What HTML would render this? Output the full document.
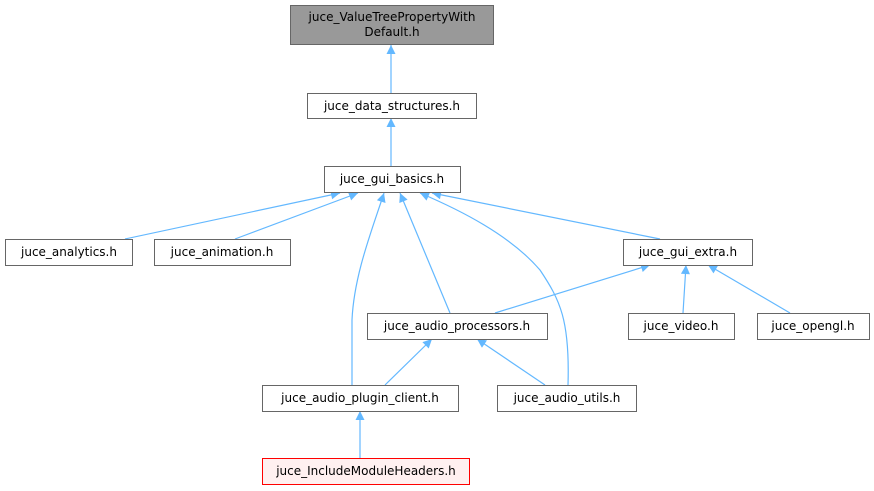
<!DOCTYPE html>
<html><head><meta charset="utf-8"><style>
html,body{margin:0;padding:0;background:#fff;}
svg{display:block;}
text{font-family:"DejaVu Sans","Liberation Sans",sans-serif;font-size:12px;fill:#000;}
</style></head><body>
<svg width="874" height="491" viewBox="0 0 874 491" xmlns="http://www.w3.org/2000/svg">
<defs>
<marker id="a" viewBox="0 0 10 10" refX="10" refY="5" markerWidth="11" markerHeight="9" markerUnits="userSpaceOnUse" orient="auto">
<path d="M0,0 L10,5 L0,10 z" fill="#63b8ff"/>
</marker>
</defs>
<g stroke="#63b8ff" stroke-width="1.2" fill="none" marker-end="url(#a)">
<path d="M391,93 L391,45"/>
<path d="M391,166 L391,118"/>
<path d="M125,239 L340,193"/>
<path d="M235,239 L358,193"/>
<path d="M660,239 L432,193"/>
<path d="M450,313 L400,193"/>
<path d="M352,385 L352,320 C354,275 372,230 384,193"/>
<path d="M568,385 C570,320 560,300 540,270 C510,235 460,210 420,193"/>
<path d="M495,313 L650,265"/>
<path d="M683,313 L686,265"/>
<path d="M790,313 L708,265"/>
<path d="M385,385 L432,339"/>
<path d="M545,385 L477,339"/>
<path d="M360,458 L360,411"/>
</g>
<g stroke="#666" stroke-width="1">
<rect x="290.5" y="5.5" width="203" height="39" fill="#999"/>
<rect x="307.5" y="93.5" width="169" height="25" fill="#fff"/>
<rect x="324.5" y="166.5" width="136" height="26" fill="#fff"/>
<rect x="5.5" y="239.5" width="127" height="26" fill="#fff"/>
<rect x="154.5" y="239.5" width="136" height="26" fill="#fff"/>
<rect x="623.5" y="239.5" width="129" height="26" fill="#fff"/>
<rect x="367.5" y="313.5" width="180" height="26" fill="#fff"/>
<rect x="628.5" y="313.5" width="106" height="26" fill="#fff"/>
<rect x="757.5" y="313.5" width="112" height="26" fill="#fff"/>
<rect x="262.5" y="385.5" width="196" height="26" fill="#fff"/>
<rect x="497.5" y="385.5" width="139" height="26" fill="#fff"/>
<rect x="262.5" y="458.5" width="207" height="26" fill="#fff0f0" stroke="#f00"/>
</g>
<g text-anchor="middle">
<text x="392" y="21">juce_ValueTreePropertyWith</text>
<text x="392" y="36">Default.h</text>
<text x="392" y="110">juce_data_structures.h</text>
<text x="392" y="183">juce_gui_basics.h</text>
<text x="69" y="256">juce_analytics.h</text>
<text x="222" y="256">juce_animation.h</text>
<text x="688" y="256">juce_gui_extra.h</text>
<text x="457" y="330">juce_audio_processors.h</text>
<text x="681" y="330">juce_video.h</text>
<text x="813" y="330">juce_opengl.h</text>
<text x="360" y="402">juce_audio_plugin_client.h</text>
<text x="567" y="402">juce_audio_utils.h</text>
<text x="366" y="475">juce_IncludeModuleHeaders.h</text>
</g>
</svg>
</body></html>
